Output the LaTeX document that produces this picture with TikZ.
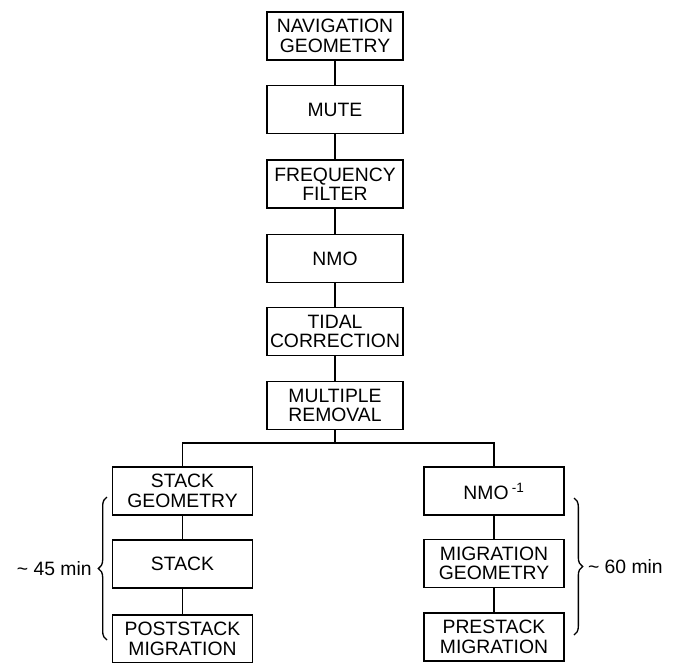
\documentclass[tikz,border=0pt]{standalone}
\usepackage{fontspec}
\setmainfont{Liberation Sans}
\usetikzlibrary{decorations.pathreplacing}

\begin{document}
\begin{tikzpicture}[x=0.75pt, y=-0.75pt, line width=1pt,
	stepbox/.style={draw, align=center, inner sep=0pt, minimum height=36pt, font=\fontsize{14.5pt}{14.6pt}\selectfont},
	midbox/.style={stepbox, minimum width=102pt},
	sidebox/.style={stepbox, minimum width=105pt},
	timelabel/.style={font=\fontsize{14.5pt}{14.6pt}\selectfont, inner sep=0pt},
	timebrace/.style={decorate, decoration={brace, amplitude=6.5pt}}]
	\useasboundingbox (0, 0) rectangle (674, 662);
	\clip (0, 0) rectangle (674, 662);

	\node[midbox] (nav) at (335, 36) {NAVIGATION\\GEOMETRY};
	\node[midbox] (mute) at (335, 109.5) {MUTE};
	\node[midbox] (freq) at (335, 184) {FREQUENCY\\FILTER};
	\node[midbox] (nmo) at (335, 258.5) {NMO};
	\node[midbox] (tidal) at (335, 331.5) {TIDAL\\CORRECTION};
	\node[midbox] (mult) at (335, 405.5) {MULTIPLE\\REMOVAL};

	\node[sidebox] (stackgeo) at (182.5, 491) {STACK\\GEOMETRY};
	\node[sidebox] (stack) at (182.5, 564) {STACK};
	\node[sidebox] (poststack) at (182.5, 639) {POSTSTACK\\MIGRATION};

	\node[sidebox] (nmoinv) at (494, 491) {NMO\,\textsuperscript{-1}};
	\node[sidebox] (miggeo) at (494, 563.5) {MIGRATION\\GEOMETRY};
	\node[sidebox] (prestack) at (494, 637) {PRESTACK\\MIGRATION};

	\coordinate (split) at (335, 443);

	\draw (nav) -- (mute);
	\draw (mute) -- (freq);
	\draw (freq) -- (nmo);
	\draw (nmo) -- (tidal);
	\draw (tidal) -- (mult);
	\draw (mult) -- (split);
	\draw (stackgeo.north) |- (split) -| (nmoinv.north);
	\draw (stackgeo) -- (stack);
	\draw (stack) -- (poststack);
	\draw (nmoinv) -- (miggeo);
	\draw (miggeo) -- (prestack);

	\coordinate (leftlow) at (107, 640);
	\coordinate (lefthigh) at (107, 497);
	\coordinate (rightlow) at (574, 635);
	\coordinate (righthigh) at (574, 498);

	\draw[timebrace] (leftlow) -- (lefthigh) node[midway, left=11pt, timelabel] (shorttime) {\textasciitilde\ 45 min};
	\draw[timebrace] (righthigh) -- (rightlow) node[midway, right=10pt, timelabel] (longtime) {\textasciitilde\ 60 min};

\end{tikzpicture}
\end{document}
